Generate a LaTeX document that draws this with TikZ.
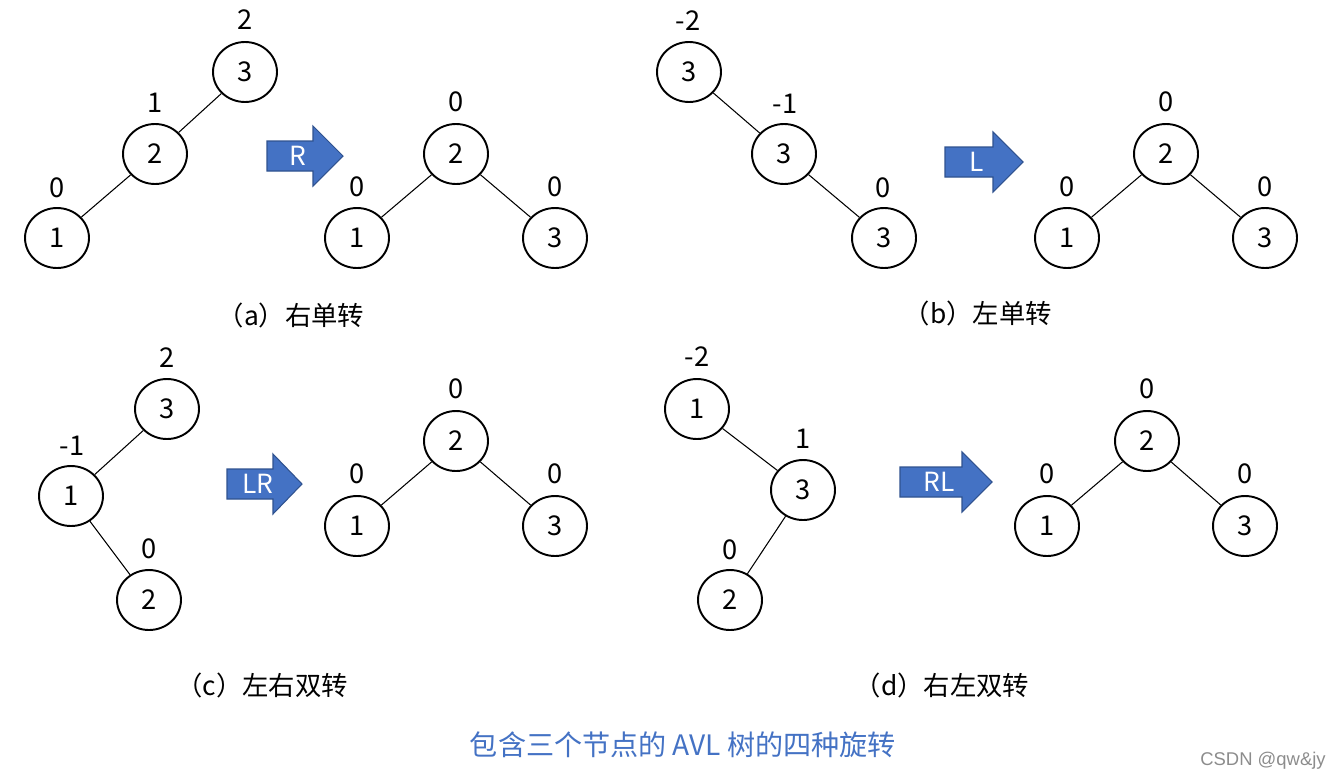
\documentclass[tikz,border=0pt]{standalone}
\usepackage{fontspec}
\setmainfont{Noto Sans CJK SC}
\newfontfamily\wmfont{Liberation Sans}
\usetikzlibrary{shapes.geometric}
\definecolor{arrowblue}{HTML}{4472C4}
\definecolor{arrowedge}{HTML}{2F528F}
\definecolor{titleblue}{HTML}{4472C4}
\newcommand{\blockarrow}[6]{%
  \draw[barrow] (#2,{#3-15}) -- (#4,{#3-15}) -- (#4,{#3-30}) -- (#5,#3) -- (#4,{#3+30}) -- (#4,{#3+15}) -- (#2,{#3+15}) -- cycle;
  \node[arrowtext] (#1) at ({(#2+#4)/2+8},#3) {#6};}
\begin{document}
\begin{tikzpicture}[x=0.02cm,y=-0.02cm,
  tnode/.style={draw, line width=1.1pt, ellipse, minimum width=1.28cm, minimum height=1.2cm, inner sep=0pt, font=\fontsize{15.5}{17}\selectfont},
  bal/.style={inner sep=0pt, font=\fontsize{15.5}{17}\selectfont},
  edge/.style={line width=0.6pt},
  barrow/.style={fill=arrowblue, draw=arrowedge, line width=0.6pt},
  arrowtext/.style={text=white, inner sep=0pt, font=\fontsize{15}{17}\selectfont},
  captxt/.style={inner sep=0pt, font=\fontsize{15}{17}\selectfont},
  ]
\useasboundingbox (0,0) rectangle (1341,781);

% ---------- (a) ----------
\node[tnode] (a3) at (245,72) {3};
\node[tnode] (a2) at (155,154) {2};
\node[tnode] (a1) at (57,238) {1};
\node[bal] (la3) at (245,20) {2};
\node[bal] (la2) at (155,103) {1};
\node[bal] (la1) at (57,188) {0};
\draw[edge] (a3) -- (a2);
\draw[edge] (a2) -- (a1);
\blockarrow{arR}{267}{156}{313}{343}{R}
\node[tnode] (ar2) at (456,154) {2};
\node[tnode] (ar1) at (357,238) {1};
\node[tnode] (ar3) at (555,238) {3};
\node[bal] (lar2) at (456,102) {0};
\node[bal] (lar1) at (357,187) {0};
\node[bal] (lar3) at (555,187) {0};
\draw[edge] (ar2) -- (ar1);
\draw[edge] (ar2) -- (ar3);
\node[captxt] (capa) at (291,315) {（a）右单转};

% ---------- (b) ----------
\node[tnode] (b3a) at (689,72) {3};
\node[tnode] (b3b) at (784,154) {3};
\node[tnode] (b3c) at (884,238) {3};
\node[bal] (lb3a) at (688,21) {-2};
\node[bal] (lb3b) at (785,104) {-1};
\node[bal] (lb3c) at (883,188) {0};
\draw[edge] (b3a) -- (b3b);
\draw[edge] (b3b) -- (b3c);
\blockarrow{arL}{945}{162}{993}{1023}{L}
\node[tnode] (br2) at (1166,154) {2};
\node[tnode] (br1) at (1067,238) {1};
\node[tnode] (br3) at (1265,238) {3};
\node[bal] (lbr2) at (1166,102) {0};
\node[bal] (lbr1) at (1067,187) {0};
\node[bal] (lbr3) at (1265,187) {0};
\draw[edge] (br2) -- (br1);
\draw[edge] (br2) -- (br3);
\node[captxt] (capb) at (978,313) {（b）左单转};

% ---------- (c) ----------
\node[tnode] (c3) at (167,409) {3};
\node[tnode] (c1) at (71,496) {1};
\node[tnode] (c2) at (149,600) {2};
\node[bal] (lc3) at (167,358) {2};
\node[bal] (lc1) at (72,446) {-1};
\node[bal] (lc2) at (149,549) {0};
\draw[edge] (c3) -- (c1);
\draw[edge] (c1) -- (c2);
\blockarrow{arLR}{227}{484}{273}{302}{LR}
\node[tnode] (cr2) at (456,441) {2};
\node[tnode] (cr1) at (357,526) {1};
\node[tnode] (cr3) at (555,526) {3};
\node[bal] (lcr2) at (456,389) {0};
\node[bal] (lcr1) at (357,474) {0};
\node[bal] (lcr3) at (555,474) {0};
\draw[edge] (cr2) -- (cr1);
\draw[edge] (cr2) -- (cr3);
\node[captxt] (capc) at (262,685) {（c）左右双转};

% ---------- (d) ----------
\node[tnode] (d1) at (697,409) {1};
\node[tnode] (d3) at (803,490) {3};
\node[tnode] (d2) at (730,600) {2};
\node[bal] (ld1) at (697,357) {-2};
\node[bal] (ld3) at (803,439) {1};
\node[bal] (ld2) at (730,550) {0};
\draw[edge] (d1) -- (d3);
\draw[edge] (d3) -- (d2);
\blockarrow{arRL}{900}{482}{962}{992}{RL}
\node[tnode] (dr2) at (1147,441) {2};
\node[tnode] (dr1) at (1047,526) {1};
\node[tnode] (dr3) at (1245,526) {3};
\node[bal] (ldr2) at (1147,389) {0};
\node[bal] (ldr1) at (1047,474) {0};
\node[bal] (ldr3) at (1245,474) {0};
\draw[edge] (dr2) -- (dr1);
\draw[edge] (dr2) -- (dr3);
\node[captxt] (capd) at (942,685) {（d）右左双转};

% ---------- title / watermark ----------
\node[inner sep=0pt, text=titleblue, font=\fontsize{16}{18}\selectfont] (title) at (683,745) {包含三个节点的 AVL 树的四种旋转};
\node[inner sep=0pt, text=black!45, font=\wmfont\fontsize{10.5}{12}\selectfont] (wm) at (1263,761) {CSDN @qw\&jy};
\end{tikzpicture}
\end{document}
